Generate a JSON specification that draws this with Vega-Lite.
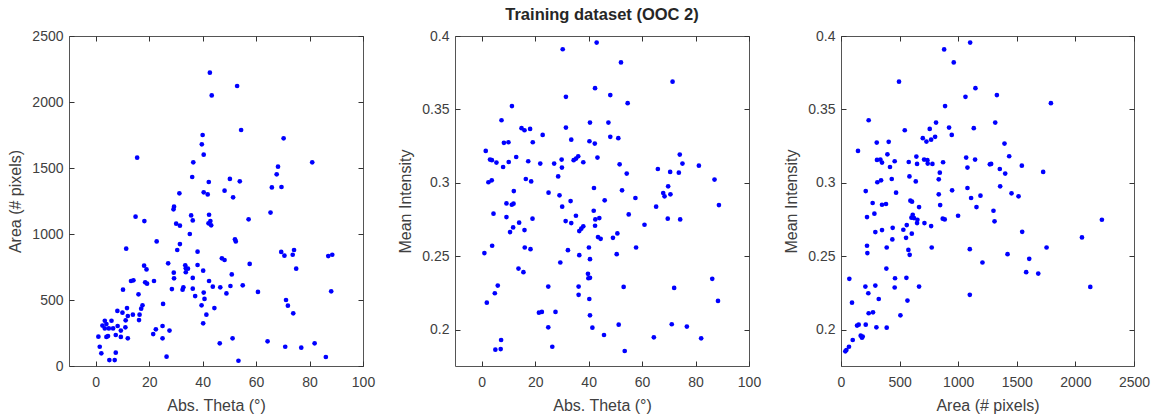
{
  "$schema": "https://vega.github.io/schema/vega-lite/v6.json",
  "padding": {"left": 7, "top": 6, "right": 5, "bottom": 5},
  "background": "white",
  "datasets": {
    "p1": [
      {"theta":42.7,"area":2222},{"theta":52.9,"area":2121},{"theta":43.4,"area":2050},{"theta":54.4,"area":1788},{"theta":70.3,"area":1725},
      {"theta":40.0,"area":1750},{"theta":39.7,"area":1679},{"theta":40.4,"area":1601},{"theta":15.5,"area":1578},{"theta":36.5,"area":1543},
      {"theta":81.0,"area":1543},{"theta":68.2,"area":1510},{"theta":67.7,"area":1452},{"theta":36.1,"area":1432},{"theta":50.2,"area":1417},
      {"theta":53.9,"area":1399},{"theta":42.3,"area":1394},{"theta":65.9,"area":1353},{"theta":69.5,"area":1356},{"theta":48.2,"area":1328},
      {"theta":31.3,"area":1308},{"theta":40.4,"area":1316},{"theta":41.9,"area":1300},{"theta":51.4,"area":1278},{"theta":29.3,"area":1207},
      {"theta":29.1,"area":1187},{"theta":65.4,"area":1162},{"theta":14.9,"area":1131},{"theta":35.7,"area":1141},{"theta":42.4,"area":1146},
      {"theta":57.2,"area":1111},{"theta":36.3,"area":1103},{"theta":18.2,"area":1098},{"theta":42.9,"area":1098},{"theta":30.1,"area":1078},
      {"theta":31.5,"area":1063},{"theta":42.2,"area":1081},{"theta":43.2,"area":1066},{"theta":35.2,"area":1000},{"theta":52.1,"area":960},
      {"theta":52.4,"area":944},{"theta":22.8,"area":944},{"theta":31.5,"area":924},{"theta":11.4,"area":889},{"theta":30.5,"area":879},
      {"theta":38.1,"area":866},{"theta":69.4,"area":864},{"theta":74.2,"area":879},{"theta":70.6,"area":836},{"theta":73.7,"area":843},
      {"theta":87.0,"area":833},{"theta":88.5,"area":843},{"theta":27.1,"area":778},{"theta":57.6,"area":773},{"theta":18.1,"area":760},
      {"theta":38.1,"area":765},{"theta":33.5,"area":763},{"theta":47.2,"area":816},{"theta":48.2,"area":803},{"theta":33.7,"area":740},
      {"theta":34.5,"area":737},{"theta":19.0,"area":732},{"theta":75.0,"area":737},{"theta":40.2,"area":722},{"theta":29.2,"area":707},
      {"theta":33.7,"area":710},{"theta":50.9,"area":694},{"theta":29.3,"area":664},{"theta":36.3,"area":667},{"theta":13.2,"area":644},
      {"theta":14.1,"area":649},{"theta":21.8,"area":644},{"theta":42.4,"area":644},{"theta":18.5,"area":634},{"theta":19.2,"area":624},
      {"theta":55.0,"area":611},{"theta":43.8,"area":601},{"theta":50.4,"area":606},{"theta":46.6,"area":596},{"theta":32.8,"area":596},
      {"theta":28.5,"area":583},{"theta":32.5,"area":578},{"theta":36.3,"area":586},{"theta":10.2,"area":578},{"theta":60.7,"area":561},
      {"theta":40.4,"area":556},{"theta":48.9,"area":550},{"theta":88.1,"area":566},{"theta":16.0,"area":543},{"theta":37.2,"area":530},
      {"theta":40.7,"area":508},{"theta":71.2,"area":500},{"theta":25.2,"area":470},{"theta":39.6,"area":460},{"theta":71.9,"area":457},
      {"theta":17.5,"area":460},{"theta":17.0,"area":434},{"theta":44.4,"area":439},{"theta":11.7,"area":439},{"theta":8.1,"area":417},
      {"theta":10.0,"area":404},{"theta":73.9,"area":399},{"theta":16.4,"area":389},{"theta":13.9,"area":389},{"theta":41.4,"area":389},
      {"theta":12.0,"area":379},{"theta":16.2,"area":348},{"theta":11.2,"area":346},{"theta":3.4,"area":343},{"theta":5.9,"area":343},
      {"theta":4.0,"area":318},{"theta":40.2,"area":323},{"theta":2.5,"area":306},{"theta":8.2,"area":303},{"theta":11.1,"area":293},
      {"theta":25.0,"area":303},{"theta":3.4,"area":285},{"theta":4.9,"area":285},{"theta":6.5,"area":285},{"theta":9.4,"area":268},
      {"theta":27.6,"area":268},{"theta":22.5,"area":278},{"theta":21.5,"area":242},{"theta":7.5,"area":235},{"theta":4.6,"area":227},
      {"theta":1.0,"area":222},{"theta":4.0,"area":220},{"theta":9.4,"area":220},{"theta":12.0,"area":210},{"theta":25.0,"area":210},
      {"theta":51.2,"area":210},{"theta":46.4,"area":172},{"theta":81.9,"area":172},{"theta":64.3,"area":187},{"theta":1.5,"area":146},
      {"theta":70.9,"area":146},{"theta":76.9,"area":139},{"theta":2.1,"area":96},{"theta":7.5,"area":101},{"theta":26.5,"area":71},
      {"theta":86.1,"area":68},{"theta":5.1,"area":45},{"theta":7.1,"area":45},{"theta":53.4,"area":40}
    ],
    "p2": [
      {"theta":43.0,"intensity":0.3955},{"theta":30.3,"intensity":0.391},{"theta":42.4,"intensity":0.3645},{"theta":31.5,"intensity":0.3586},
      {"theta":11.3,"intensity":0.3523},{"theta":7.4,"intensity":0.3427},{"theta":14.9,"intensity":0.3373},{"theta":16.0,"intensity":0.3359},
      {"theta":18.1,"intensity":0.3368},{"theta":31.5,"intensity":0.3377},{"theta":40.5,"intensity":0.3411},{"theta":22.8,"intensity":0.3327},
      {"theta":8.3,"intensity":0.3273},{"theta":10.0,"intensity":0.3277},{"theta":19.1,"intensity":0.3277},{"theta":33.5,"intensity":0.3295},
      {"theta":40.3,"intensity":0.3284},{"theta":42.3,"intensity":0.3268},{"theta":1.5,"intensity":0.3218},{"theta":3.1,"intensity":0.3159},
      {"theta":3.8,"intensity":0.3155},{"theta":5.5,"intensity":0.3139},{"theta":8.0,"intensity":0.3109},{"theta":10.1,"intensity":0.3143},
      {"theta":12.9,"intensity":0.3177},{"theta":17.4,"intensity":0.3148},{"theta":21.9,"intensity":0.3132},{"theta":27.1,"intensity":0.3132},
      {"theta":29.9,"intensity":0.3159},{"theta":30.0,"intensity":0.3105},{"theta":34.4,"intensity":0.3155},{"theta":35.3,"intensity":0.3166},
      {"theta":36.1,"intensity":0.3182},{"theta":38.0,"intensity":0.3141},{"theta":43.3,"intensity":0.3173},{"theta":28.6,"intensity":0.3045},
      {"theta":2.5,"intensity":0.3005},{"theta":3.75,"intensity":0.3018},{"theta":16.5,"intensity":0.3027},{"theta":18.5,"intensity":0.3011},
      {"theta":42.0,"intensity":0.2966},{"theta":12.0,"intensity":0.2945},{"theta":25.0,"intensity":0.2934},{"theta":29.1,"intensity":0.2916},
      {"theta":46.0,"intensity":0.2882},{"theta":9.25,"intensity":0.2861},{"theta":11.25,"intensity":0.2852},{"theta":11.9,"intensity":0.2859},
      {"theta":30.1,"intensity":0.2839},{"theta":33.25,"intensity":0.2877},{"theta":41.9,"intensity":0.2811},{"theta":4.4,"intensity":0.2791},
      {"theta":9.25,"intensity":0.2768},{"theta":19.0,"intensity":0.2757},{"theta":35.25,"intensity":0.2777},{"theta":42.5,"intensity":0.2752},
      {"theta":44.0,"intensity":0.2761},{"theta":14.0,"intensity":0.2730},{"theta":11.75,"intensity":0.2698},{"theta":31.4,"intensity":0.2741},
      {"theta":33.5,"intensity":0.2727},{"theta":38.0,"intensity":0.2705},{"theta":37.25,"intensity":0.2689},{"theta":36.5,"intensity":0.2673},
      {"theta":42.4,"intensity":0.2709},{"theta":10.6,"intensity":0.2666},{"theta":16.0,"intensity":0.2680},{"theta":43.5,"intensity":0.2632},
      {"theta":44.5,"intensity":0.2620},{"theta":3.9,"intensity":0.2573},{"theta":1.0,"intensity":0.2523},{"theta":16.1,"intensity":0.2561},
      {"theta":18.25,"intensity":0.2550},{"theta":32.25,"intensity":0.2543},{"theta":40.1,"intensity":0.2561},{"theta":36.5,"intensity":0.2509},
      {"theta":40.5,"intensity":0.2482},{"theta":29.4,"intensity":0.2459},{"theta":13.75,"intensity":0.2418},{"theta":15.6,"intensity":0.2393},
      {"theta":39.75,"intensity":0.2382},{"theta":39.9,"intensity":0.2352},{"theta":40.5,"intensity":0.2355},{"theta":6.0,"intensity":0.2302},
      {"theta":4.9,"intensity":0.2250},{"theta":24.9,"intensity":0.2295},{"theta":36.25,"intensity":0.2295},{"theta":36.25,"intensity":0.2239},
      {"theta":40.25,"intensity":0.2211},{"theta":1.9,"intensity":0.2186},{"theta":21.4,"intensity":0.2118},{"theta":22.5,"intensity":0.2123},
      {"theta":27.6,"intensity":0.2123},{"theta":40.5,"intensity":0.2100},{"theta":24.9,"intensity":0.2018},{"theta":41.4,"intensity":0.2016},
      {"theta":45.75,"intensity":0.1966},{"theta":7.25,"intensity":0.1932},{"theta":5.1,"intensity":0.1866},{"theta":7.1,"intensity":0.1870},
      {"theta":26.4,"intensity":0.1886},
      {"theta":52.1,"intensity":0.3820},{"theta":71.4,"intensity":0.3689},{"theta":48.1,"intensity":0.3598},{"theta":54.6,"intensity":0.3543},
      {"theta":47.4,"intensity":0.3411},{"theta":48.1,"intensity":0.3314},{"theta":51.1,"intensity":0.3305},{"theta":74.1,"intensity":0.3193},
      {"theta":75.1,"intensity":0.3132},{"theta":81.25,"intensity":0.3118},{"theta":51.6,"intensity":0.3127},{"theta":65.9,"intensity":0.3095},
      {"theta":70.5,"intensity":0.3075},{"theta":73.75,"intensity":0.3070},{"theta":54.25,"intensity":0.3064},{"theta":87.1,"intensity":0.3023},
      {"theta":69.75,"intensity":0.2977},{"theta":52.5,"intensity":0.2950},{"theta":67.9,"intensity":0.2932},{"theta":68.4,"intensity":0.2909},
      {"theta":70.6,"intensity":0.2923},{"theta":57.5,"intensity":0.2898},{"theta":65.25,"intensity":0.2839},{"theta":88.75,"intensity":0.2850},
      {"theta":55.0,"intensity":0.2786},{"theta":69.6,"intensity":0.2757},{"theta":74.25,"intensity":0.2752},{"theta":60.9,"intensity":0.2716},
      {"theta":50.75,"intensity":0.2657},{"theta":49.1,"intensity":0.2627},{"theta":57.75,"intensity":0.2561},{"theta":50.5,"intensity":0.2516},
      {"theta":86.25,"intensity":0.2348},{"theta":53.1,"intensity":0.2293},{"theta":72.0,"intensity":0.2286},{"theta":88.4,"intensity":0.2198},
      {"theta":51.25,"intensity":0.2036},{"theta":71.1,"intensity":0.2039},{"theta":76.75,"intensity":0.2023},{"theta":64.4,"intensity":0.1950},
      {"theta":82.1,"intensity":0.1943},{"theta":53.5,"intensity":0.1857}
    ],
    "p3": [
      {"area":1102,"intensity":0.3955},{"area":880,"intensity":0.3909},{"area":962,"intensity":0.3820},{"area":495,"intensity":0.3689},
      {"area":1147,"intensity":0.3645},{"area":1062,"intensity":0.3586},{"area":888,"intensity":0.3523},{"area":236,"intensity":0.3427},
      {"area":811,"intensity":0.3411},{"area":757,"intensity":0.3368},{"area":922,"intensity":0.3377},{"area":544,"intensity":0.3359},
      {"area":1133,"intensity":0.3373},{"area":945,"intensity":0.3327},{"area":698,"intensity":0.3305},{"area":729,"intensity":0.3282},
      {"area":769,"intensity":0.3295},{"area":803,"intensity":0.3314},{"area":305,"intensity":0.3275},{"area":407,"intensity":0.3280},
      {"area":145,"intensity":0.3218},{"area":396,"intensity":0.3195},{"area":307,"intensity":0.3157},{"area":336,"intensity":0.3159},
      {"area":350,"intensity":0.3139},{"area":418,"intensity":0.3109},{"area":458,"intensity":0.3148},{"area":578,"intensity":0.3143},
      {"area":643,"intensity":0.3180},{"area":649,"intensity":0.3130},{"area":709,"intensity":0.3159},{"area":737,"intensity":0.3155},
      {"area":740,"intensity":0.3132},{"area":780,"intensity":0.3130},{"area":871,"intensity":0.3141},{"area":1068,"intensity":0.3173},
      {"area":1144,"intensity":0.3159},{"area":1270,"intensity":0.3127},{"area":1079,"intensity":0.3105},{"area":843,"intensity":0.3070},
      {"area":584,"intensity":0.3045},{"area":310,"intensity":0.3005},{"area":342,"intensity":0.3018},{"area":433,"intensity":0.3027},
      {"area":638,"intensity":0.3011},{"area":834,"intensity":0.3025},{"area":1079,"intensity":0.2966},{"area":211,"intensity":0.2945},
      {"area":470,"intensity":0.2934},{"area":834,"intensity":0.2923},{"area":948,"intensity":0.2950},{"area":1110,"intensity":0.2898},
      {"area":1190,"intensity":0.2914},{"area":270,"intensity":0.2864},{"area":350,"intensity":0.2852},{"area":384,"intensity":0.2857},
      {"area":592,"intensity":0.2880},{"area":606,"intensity":0.2873},{"area":666,"intensity":0.2836},{"area":846,"intensity":0.2850},
      {"area":1156,"intensity":0.2836},{"area":285,"intensity":0.2791},{"area":222,"intensity":0.2768},{"area":612,"intensity":0.2784},
      {"area":601,"intensity":0.2764},{"area":623,"intensity":0.2761},{"area":652,"intensity":0.2750},{"area":868,"intensity":0.2757},
      {"area":885,"intensity":0.2752},{"area":999,"intensity":0.2777},{"area":649,"intensity":0.2727},{"area":712,"intensity":0.2727},
      {"area":769,"intensity":0.2707},{"area":561,"intensity":0.2714},{"area":293,"intensity":0.2666},{"area":350,"intensity":0.2680},
      {"area":441,"intensity":0.2695},{"area":532,"intensity":0.2682},{"area":604,"intensity":0.2655},{"area":555,"intensity":0.2627},
      {"area":438,"intensity":0.2616},{"area":222,"intensity":0.2573},{"area":225,"intensity":0.2523},{"area":390,"intensity":0.2561},
      {"area":575,"intensity":0.2545},{"area":586,"intensity":0.2511},{"area":774,"intensity":0.2561},{"area":1099,"intensity":0.2550},
      {"area":1207,"intensity":0.2459},{"area":387,"intensity":0.2418},{"area":71,"intensity":0.2348},{"area":461,"intensity":0.2352},
      {"area":558,"intensity":0.2355},{"area":208,"intensity":0.2295},{"area":293,"intensity":0.2302},{"area":458,"intensity":0.2289},
      {"area":666,"intensity":0.2295},{"area":233,"intensity":0.2250},{"area":322,"intensity":0.2211},{"area":567,"intensity":0.2200},
      {"area":1099,"intensity":0.2239},{"area":94,"intensity":0.2186},{"area":236,"intensity":0.2114},{"area":273,"intensity":0.2120},
      {"area":507,"intensity":0.2100},{"area":137,"intensity":0.2030},{"area":151,"intensity":0.2036},{"area":211,"intensity":0.2036},
      {"area":302,"intensity":0.2018},{"area":390,"intensity":0.2016},{"area":168,"intensity":0.1961},{"area":179,"intensity":0.1948},
      {"area":185,"intensity":0.1955},{"area":100,"intensity":0.1932},{"area":68,"intensity":0.1886},{"area":46,"intensity":0.1864},
      {"area":37,"intensity":0.1855},
      {"area":1330,"intensity":0.3598},{"area":1791,"intensity":0.3543},{"area":1316,"intensity":0.3411},{"area":1395,"intensity":0.3268},
      {"area":1435,"intensity":0.3182},{"area":1281,"intensity":0.3130},{"area":1355,"intensity":0.3095},{"area":1401,"intensity":0.3064},
      {"area":1543,"intensity":0.3118},{"area":1725,"intensity":0.3075},{"area":1358,"intensity":0.2977},{"area":1455,"intensity":0.2930},
      {"area":1515,"intensity":0.2909},{"area":1301,"intensity":0.2811},{"area":1310,"intensity":0.2739},{"area":1546,"intensity":0.2668},
      {"area":2226,"intensity":0.2750},{"area":2056,"intensity":0.2630},{"area":1754,"intensity":0.2561},{"area":1421,"intensity":0.2516},
      {"area":1606,"intensity":0.2484},{"area":1580,"intensity":0.2393},{"area":1683,"intensity":0.2384},{"area":2127,"intensity":0.2293}
    ]
  },
  "hconcat": [
    {
      "width": 294, "height": 330,
      "data": {"name": "p1"},
      "layer": [
        {
          "mark": {"type": "circle", "color": "#0000ff", "size": 22, "opacity": 1},
          "encoding": {
            "x": {"field": "theta", "type": "quantitative", "scale": {"domain": [-10, 100], "nice": false, "zero": false},
                  "axis": {"orient": "bottom", "values": [0, 20, 40, 60, 80, 100], "title": "Abs. Theta (°)"}},
            "y": {"field": "area", "type": "quantitative", "scale": {"domain": [0, 2500], "nice": false, "zero": false},
                  "axis": {"orient": "left", "values": [0, 500, 1000, 1500, 2000, 2500], "format": "d", "title": "Area (# pixels)"}}
          }
        },
        {
          "mark": {"type": "circle", "opacity": 0},
          "encoding": {
            "x": {"field": "theta", "type": "quantitative", "axis": {"orient": "top", "values": [0, 20, 40, 60, 80, 100], "labels": false, "title": null}},
            "y": {"field": "area", "type": "quantitative", "axis": {"orient": "right", "values": [0, 500, 1000, 1500, 2000, 2500], "labels": false, "title": null}}
          }
        }
      ],
      "resolve": {"axis": {"x": "independent", "y": "independent"}}
    },
    {
      "width": 294, "height": 330,
      "data": {"name": "p2"},
      "title": {"text": "Training dataset (OOC 2)", "fontSize": 16.5, "fontWeight": "bold", "color": "#262626", "offset": 5.5, "anchor": "middle"},
      "layer": [
        {
          "mark": {"type": "circle", "color": "#0000ff", "size": 22, "opacity": 1},
          "encoding": {
            "x": {"field": "theta", "type": "quantitative", "scale": {"domain": [-10, 100], "nice": false, "zero": false},
                  "axis": {"orient": "bottom", "values": [0, 20, 40, 60, 80, 100], "title": "Abs. Theta (°)"}},
            "y": {"field": "intensity", "type": "quantitative", "scale": {"domain": [0.1755, 0.4], "nice": false, "zero": false},
                  "axis": {"orient": "left", "values": [0.2, 0.25, 0.3, 0.35, 0.4], "format": "~g", "title": "Mean Intensity"}}
          }
        },
        {
          "mark": {"type": "circle", "opacity": 0},
          "encoding": {
            "x": {"field": "theta", "type": "quantitative", "axis": {"orient": "top", "values": [0, 20, 40, 60, 80, 100], "labels": false, "title": null}},
            "y": {"field": "intensity", "type": "quantitative", "axis": {"orient": "right", "values": [0.2, 0.25, 0.3, 0.35, 0.4], "labels": false, "title": null}}
          }
        }
      ],
      "resolve": {"axis": {"x": "independent", "y": "independent"}}
    },
    {
      "width": 293, "height": 330,
      "data": {"name": "p3"},
      "layer": [
        {
          "mark": {"type": "circle", "color": "#0000ff", "size": 22, "opacity": 1},
          "encoding": {
            "x": {"field": "area", "type": "quantitative", "scale": {"domain": [0, 2500], "nice": false, "zero": false},
                  "axis": {"orient": "bottom", "values": [0, 500, 1000, 1500, 2000, 2500], "format": "d", "title": "Area (# pixels)"}},
            "y": {"field": "intensity", "type": "quantitative", "scale": {"domain": [0.1755, 0.4], "nice": false, "zero": false},
                  "axis": {"orient": "left", "values": [0.2, 0.25, 0.3, 0.35, 0.4], "format": "~g", "title": "Mean Intensity"}}
          }
        },
        {
          "mark": {"type": "circle", "opacity": 0},
          "encoding": {
            "x": {"field": "area", "type": "quantitative", "axis": {"orient": "top", "values": [0, 500, 1000, 1500, 2000, 2500], "labels": false, "title": null}},
            "y": {"field": "intensity", "type": "quantitative", "axis": {"orient": "right", "values": [0.2, 0.25, 0.3, 0.35, 0.4], "labels": false, "title": null}}
          }
        }
      ],
      "resolve": {"axis": {"x": "independent", "y": "independent"}}
    }
  ],
  "spacing": 92,
  "bounds": "flush",
  "config": {
    "font": "Liberation Sans",
    "view": {"stroke": "#555555", "strokeWidth": 1},
    "axis": {
      "domain": false, "grid": false, "tickSize": -5, "tickColor": "#333333", "tickWidth": 1,
      "labelFontSize": 14, "labelColor": "#404040", "labelPadding": 11, "labelFlush": false, "labelOverlap": false,
      "titleFontSize": 16, "titleFontWeight": "normal", "titleColor": "#404040", "titlePadding": 8
    },
    "axisBottom": {"labelPadding": 14}
  }
}
